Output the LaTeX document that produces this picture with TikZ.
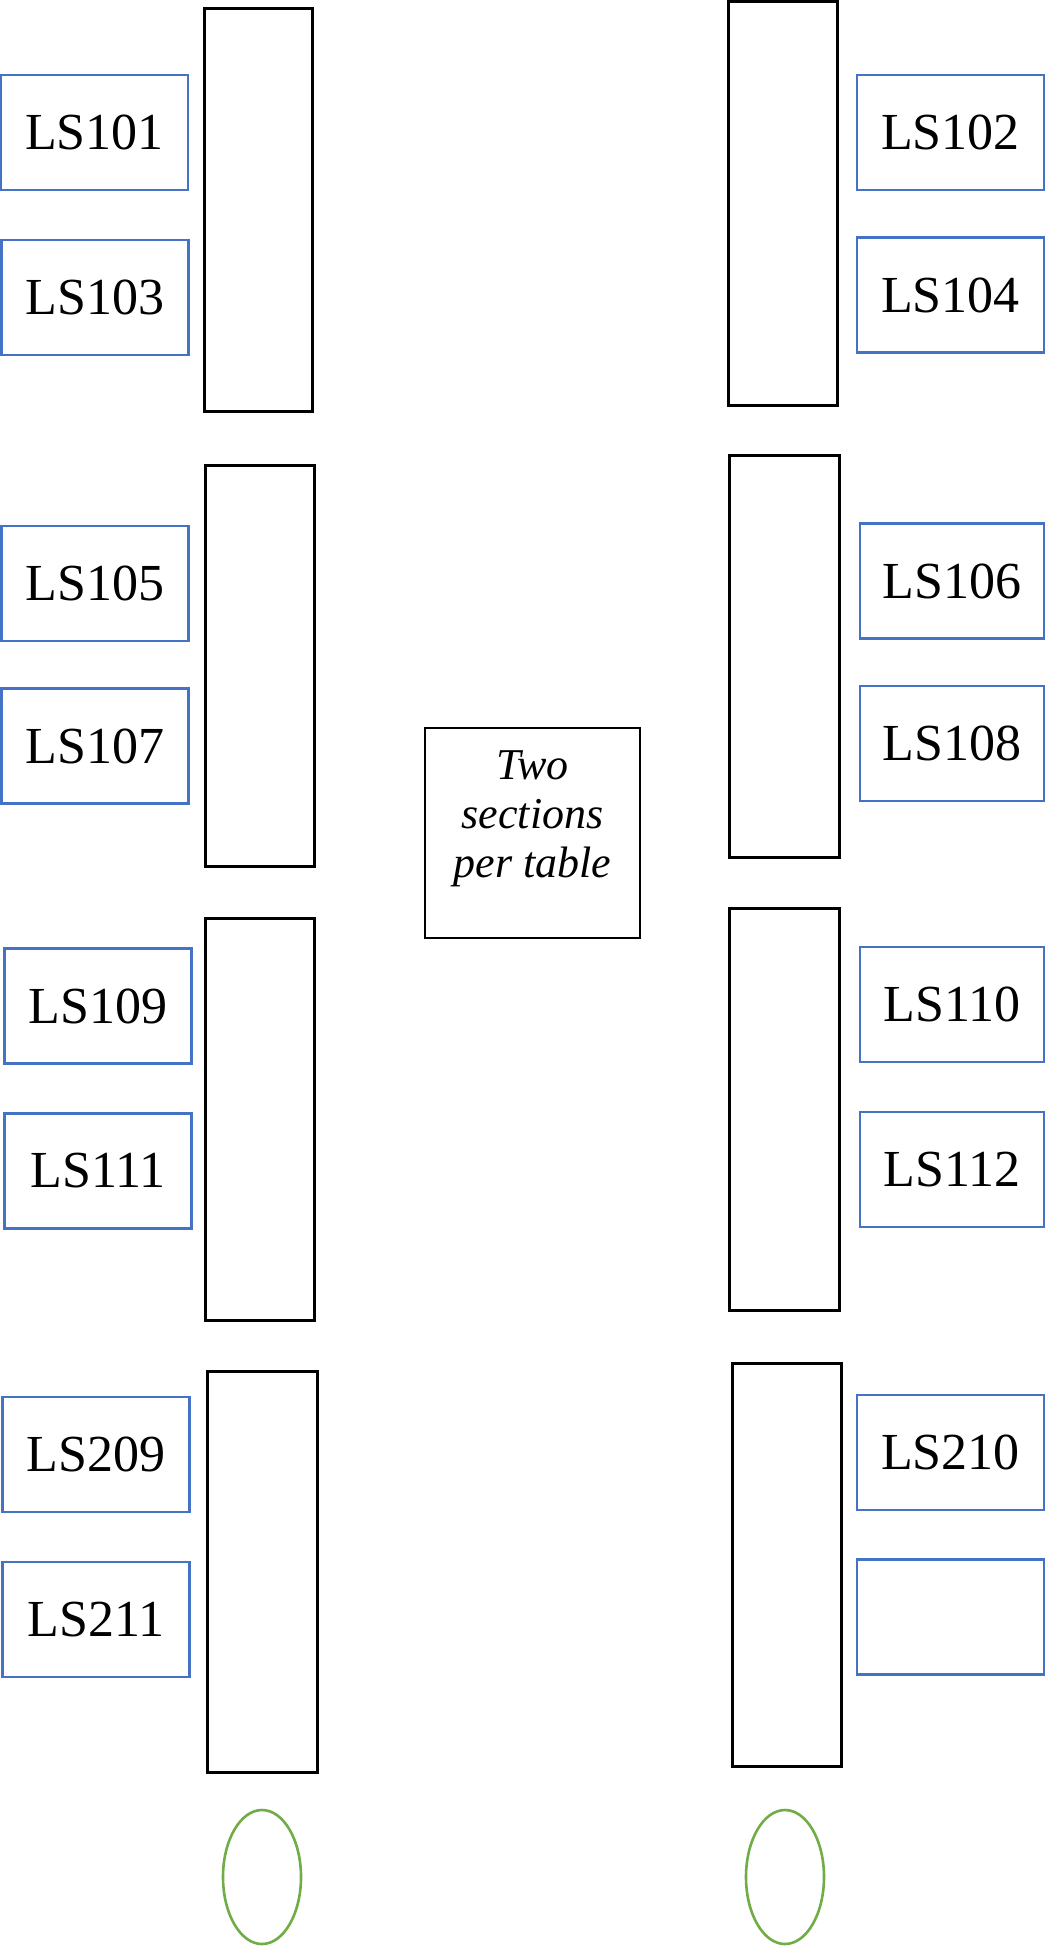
\documentclass[tikz,border=0pt]{standalone}
\usepackage{fontspec}
\setmainfont{Liberation Serif}
\definecolor{lsblue}{RGB}{68,114,196}
\definecolor{lsgreen}{RGB}{112,173,71}
\tikzset{
  lsbox/.style={draw=lsblue, line width=2.4pt, rectangle, inner sep=0pt,
    minimum width=187pt, minimum height=115pt,
    font=\fontsize{52}{60}\selectfont},
  tablebox/.style={draw=black, line width=3pt, rectangle, inner sep=0pt},
  bin/.style={draw=lsgreen, line width=2.6pt, ellipse, inner sep=0pt,
    minimum width=78pt, minimum height=134pt},
  notebox/.style={draw=black, line width=1.3pt, rectangle, inner sep=0pt,
    minimum width=215pt, minimum height=210pt}
}
\usetikzlibrary{shapes.geometric}
\begin{document}
\begin{tikzpicture}[x=1pt,y=-1pt]
\useasboundingbox[fill=white] (0,0) rectangle (1045,1948);
% left tables
\node[tablebox, minimum width=108pt, minimum height=402pt] (tl1) at (258,210) {};
\node[tablebox, minimum width=109pt, minimum height=401pt] (tl2) at (259.5,665.5) {};
\node[tablebox, minimum width=109pt, minimum height=402pt] (tl3) at (259.5,1119) {};
\node[tablebox, minimum width=110pt, minimum height=401pt] (tl4) at (262,1571.5) {};
% right tables
\node[tablebox, minimum width=109pt, minimum height=403pt] (tr1) at (782.5,203.5) {};
\node[tablebox, minimum width=110pt, minimum height=402pt] (tr2) at (784,656) {};
\node[tablebox, minimum width=110pt, minimum height=402pt] (tr3) at (784,1109) {};
\node[tablebox, minimum width=109pt, minimum height=403pt] (tr4) at (786.5,1564.5) {};
% left seats
\node[lsbox] (ls101) at (94.5,132.5) {LS101};
\node[lsbox] (ls103) at (95,297.5) {LS103};
\node[lsbox] (ls105) at (95,583.5) {LS105};
\node[lsbox] (ls107) at (95,746) {LS107};
\node[lsbox] (ls109) at (98,1006) {LS109};
\node[lsbox] (ls111) at (98,1171) {LS111};
\node[lsbox] (ls209) at (96,1454.5) {LS209};
\node[lsbox] (ls211) at (96,1619.5) {LS211};
% right seats
\node[lsbox] (ls102) at (950.5,132.5) {LS102};
\node[lsbox] (ls104) at (950.5,295) {LS104};
\node[lsbox, minimum width=184pt] (ls106) at (952,581) {LS106};
\node[lsbox, minimum width=184pt] (ls108) at (952,743.5) {LS108};
\node[lsbox, minimum width=184pt] (ls110) at (952,1004.5) {LS110};
\node[lsbox, minimum width=184pt] (ls112) at (952,1169.5) {LS112};
\node[lsbox] (ls210) at (950.5,1452.5) {LS210};
\node[lsbox] (lsblank) at (950.5,1617) {};
% note
\node[notebox] (note) at (532.5,833) {};
\node[anchor=north, align=center, inner sep=0pt,
  font=\fontsize{44}{49}\selectfont\itshape] (notetext) at (532.5,750) {Two\\sections\\per table};
% bins
\node[bin] (binl) at (262,1877) {};
\node[bin] (binr) at (785,1877) {};
\end{tikzpicture}
\end{document}
